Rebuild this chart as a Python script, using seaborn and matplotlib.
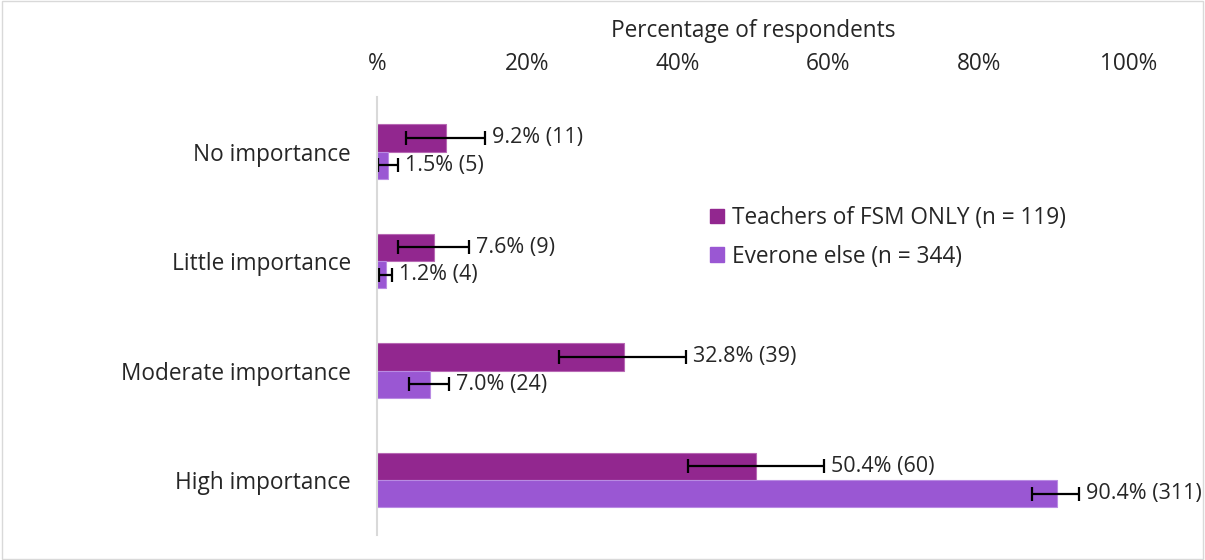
import pandas as pd
import seaborn as sns
import matplotlib.pyplot as plt
from matplotlib.patches import Rectangle

# data
categories = ["No importance", "Little importance", "Moderate importance", "High importance"]
groups = ["Teachers of FSM ONLY (n = 119)", "Everone else (n = 344)"]
teacher_pct = [9.2, 7.6, 32.8, 50.4]
teacher_n = [11, 9, 39, 60]
teacher_lo = [3.9, 2.8, 24.2, 41.4]
teacher_hi = [14.4, 12.2, 41.1, 59.4]
other_pct = [1.5, 1.2, 7.0, 90.4]
other_n = [5, 4, 24, 311]
other_lo = [0.1, 0.3, 4.3, 87.1]
other_hi = [2.8, 2.0, 9.6, 93.4]

colors = ["#92278F", "#9A57D3"]
edges = ["#B768B4", "#B98BE3"]

df = pd.DataFrame({
    "category": categories * 2,
    "group": [groups[0]] * 4 + [groups[1]] * 4,
    "pct": teacher_pct + other_pct,
})

sns.set_style("white")
plt.rcParams["font.family"] = ["Open Sans", "DejaVu Sans"]
FS = 16.3
TXT = "#262626"

fig = plt.figure(figsize=(12.05, 5.6), dpi=100)
ax = fig.add_axes([0.313, 0.045, 0.624, 0.782])

sns.barplot(data=df, y="category", x="pct", hue="group", order=categories,
            hue_order=groups, palette=colors, saturation=1, width=0.5,
            orient="h", errorbar=None, ax=ax, legend=False)

lows = [teacher_lo, other_lo]
highs = [teacher_hi, other_hi]
vals = [teacher_pct, other_pct]
counts = [teacher_n, other_n]
bar_sets = list(ax.containers)
for k, cont in enumerate(bar_sets):
    for i, p in enumerate(cont.patches):
        p.set_edgecolor(edges[k])
        p.set_linewidth(0.8)
        yc = p.get_y() + p.get_height() / 2
        v = vals[k][i]
        ax.errorbar(v, yc, xerr=[[v - lows[k][i]], [highs[k][i] - v]],
                    fmt="none", ecolor="black", elinewidth=1.6, capsize=5,
                    capthick=1.6)
        ax.text(highs[k][i] + 0.9, yc, f"{v:.1f}% ({counts[k][i]})",
                va="center", ha="left", fontsize=FS - 0.8, color=TXT)

ax.set_xlim(0, 100)
ax.set_ylim(3.5, -0.5)
ax.xaxis.tick_top()
ax.xaxis.set_label_position("top")
ax.set_xticks([0, 20, 40, 60, 80, 100])
ax.set_xticklabels(["%", "20%", "40%", "60%", "80%", "100%"])
ax.set_xlabel("Percentage of respondents", fontsize=FS, color=TXT, labelpad=11)
ax.set_ylabel("")
ax.tick_params(axis="x", length=0, labelsize=FS, labelcolor=TXT, pad=15)
ax.tick_params(axis="y", length=0, labelsize=FS, labelcolor=TXT, pad=19)
for s in ["top", "right", "bottom"]:
    ax.spines[s].set_visible(False)
ax.spines["left"].set_color("#D9D9D9")
ax.spines["left"].set_linewidth(1.5)

# legend
handles = [Rectangle((0, 0), 1, 1, color=c) for c in colors]
ax.legend(handles, groups, loc="upper left", bbox_to_anchor=(0.428, 0.777),
          frameon=False, fontsize=FS, handlelength=0.6, handleheight=0.6,
          handletextpad=0.35, labelspacing=0.65, borderpad=0, labelcolor=TXT)

# outer border
fig.patches.append(Rectangle((0.002, 0.002), 0.996, 0.996, transform=fig.transFigure,
                             fill=False, edgecolor="#D9D9D9", linewidth=1))

fig.savefig("out.png", dpi=100)
